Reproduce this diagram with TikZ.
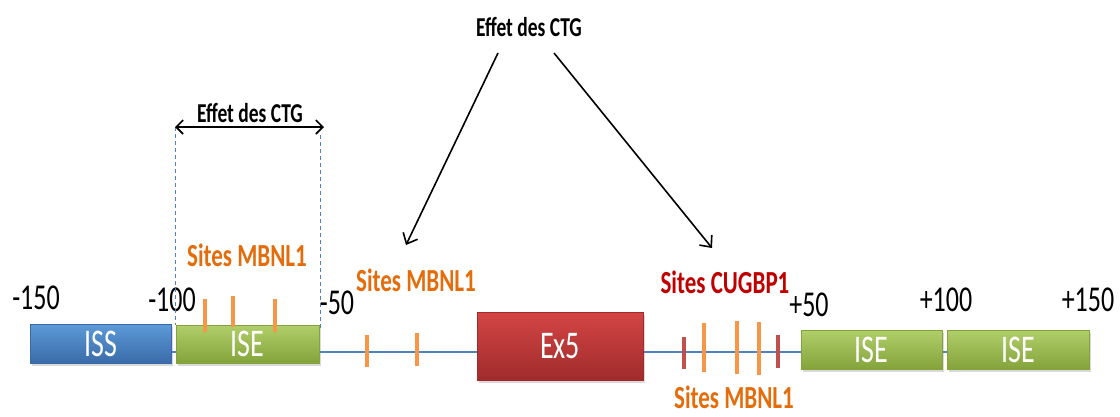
\documentclass[tikz,border=0pt]{standalone}
\usepackage{fontspec}
\setmainfont{Carlito}
\usetikzlibrary{arrows.meta,shadows}
\definecolor{lineblue}{HTML}{4F81BD}
\definecolor{tickor}{HTML}{F79646}
\definecolor{tickred}{HTML}{C0504D}
\definecolor{txtor}{HTML}{E46C0A}
\definecolor{txtred}{HTML}{C00000}
\definecolor{blueT}{HTML}{5C9AD8}
\definecolor{blueB}{HTML}{3A6BA8}
\definecolor{greenT}{HTML}{B0CF6A}
\definecolor{greenB}{HTML}{85A33B}
\definecolor{redT}{HTML}{D44545}
\definecolor{redB}{HTML}{A02B2B}
\newcommand\vst[1]{\scalebox{1}[1.4]{#1}}
\begin{document}
\begin{tikzpicture}[x=1pt,y=-1pt,
  genebox/.style={rectangle, inner sep=0, text=white,
    font=\fontsize{28}{28}\selectfont,
    drop shadow={shadow xshift=2pt, shadow yshift=-3pt, opacity=0.3}},
  issbox/.style={genebox, top color=blueT, bottom color=blueB, draw=blueB, line width=0.4pt},
  isebox/.style={genebox, top color=greenT, bottom color=greenB, draw=greenB, line width=0.4pt},
  exbox/.style={genebox, top color=redT, bottom color=redB, draw=redB, line width=0.4pt},
  posl/.style={font=\fontsize{26}{26}\selectfont, inner sep=0},
  effet/.style={font=\bfseries\fontsize{19.5}{20}\selectfont, inner sep=0},
  sites/.style={font=\bfseries\fontsize{23}{23}\selectfont, inner sep=0, text=txtor},
  tickmark/.style={line width=4pt, tickor},
  rtickmark/.style={line width=4pt, tickred},
  arr/.style={line width=1.6pt, -{Straight Barb[length=9pt,width=16pt]}},
  dbl/.style={line width=1.6pt, {Straight Barb[length=7pt,width=14pt]}-{Straight Barb[length=7pt,width=14pt]}},
  dashv/.style={lineblue, dash pattern=on 4pt off 3pt, line width=1pt}
]
\useasboundingbox (0,0) rectangle (1120,416);

% backbone line
\coordinate (L0) at (171,352);
\coordinate (L1) at (947,352);
\draw[lineblue, line width=1.5pt] (L0) -- (L1);

% boxes
\node[issbox, minimum width=141pt, minimum height=39pt] (ISS) at (100.5,343.5) {\vst{ISS}};
\node[isebox, minimum width=143pt, minimum height=38pt] (ISE1) at (247.5,344) {\vst{ISE}};
\node[exbox, minimum width=166pt, minimum height=68pt] (EX) at (560,346) {\vst{Ex5}};
\node[isebox, minimum width=141pt, minimum height=39pt] (ISE2) at (871.5,349.5) {\vst{ISE}};
\node[isebox, minimum width=142pt, minimum height=39pt] (ISE3) at (1018,349.5) {\vst{ISE}};

% position labels
\node[posl] (p1) at (36,298) {\vst{-150}};
\node[posl] (p2) at (172,300) {\vst{-100}};
\node[posl] (p3) at (337,303) {\vst{-50}};
\node[posl] (p4) at (809,305) {\vst{+50}};
\node[posl] (p5) at (946,300) {\vst{+100}};
\node[posl] (p6) at (1088,300) {\vst{+150}};

% ticks
\draw[tickmark] (205,299) -- (205,332);
\draw[tickmark] (233,296) -- (233,327);
\draw[tickmark] (275,299) -- (275,332);
\draw[tickmark] (367,335) -- (367,367);
\draw[tickmark] (417,333) -- (417,366);
\draw[rtickmark] (684,337) -- (684,369);
\draw[tickmark] (704,323) -- (704,372);
\draw[tickmark] (737,321) -- (737,374);
\draw[tickmark] (759,322) -- (759,375);
\draw[rtickmark] (778,335) -- (778,368);

% sites labels
\node[sites] (s1) at (247,255) {\vst{Sites MBNL1}};
\node[sites] (s2) at (416,280) {\vst{Sites MBNL1}};
\node[sites, text=txtred] (s3) at (725,282) {\vst{Sites CUGBP1}};
\node[sites] (s4) at (734,397) {\vst{Sites MBNL1}};

% local effect
\coordinate (dA) at (175,127);
\coordinate (dB) at (324,127);
\coordinate (dL) at (175,325);
\coordinate (dR0) at (320,135);
\coordinate (dR1) at (320,330);
\draw[dashv] (dA) -- (dL);
\draw[dashv] (dR0) -- (dR1);
\draw[dbl] (dA) -- (dB);
\node[effet] (e1) at (250,113) {\vst{Effet des CTG}};

% top effect
\node[effet] (top) at (529,27) {\vst{Effet des CTG}};
\coordinate (a1s) at (498,53);
\coordinate (a1e) at (406,245);
\coordinate (a2s) at (554,53);
\coordinate (a2e) at (712,248);
\draw[arr] (a1s) -- (a1e);
\draw[arr] (a2s) -- (a2e);
\end{tikzpicture}
\end{document}
